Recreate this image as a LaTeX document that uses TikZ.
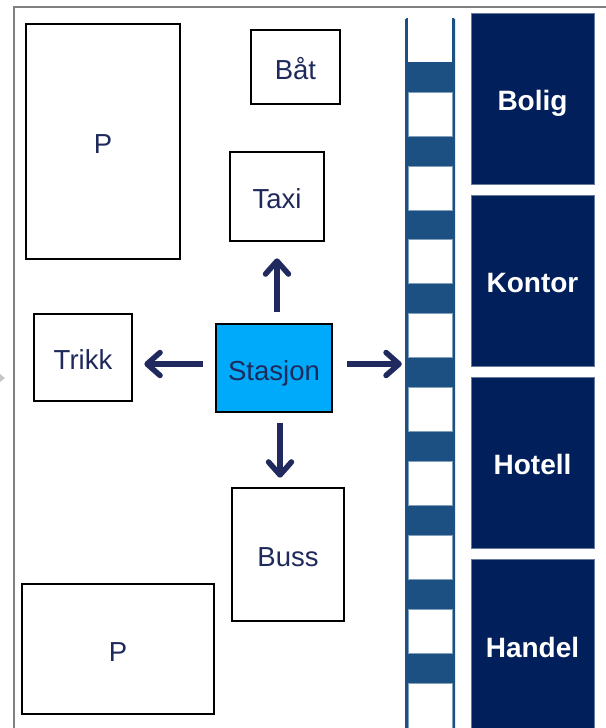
\documentclass[tikz,border=0pt]{standalone}
\usepackage{fontspec}
\setmainfont{Liberation Sans}
\usetikzlibrary{arrows.meta}
\definecolor{navytext}{RGB}{31,42,92}
\definecolor{arrowblue}{RGB}{33,42,94}
\definecolor{station}{RGB}{0,170,250}
\definecolor{railblue}{RGB}{28,80,130}
\definecolor{zone}{RGB}{0,31,91}
\definecolor{framegray}{RGB}{128,128,128}
\begin{document}
\begin{tikzpicture}[x=1pt,y=-1pt,
  place/.style={draw=black, line width=2.6pt, fill=white, inner sep=0pt,
    text height=24pt, text depth=0pt,
    font=\fontsize{27.5}{30}\selectfont, text=navytext},
  hub/.style={place, fill=station},
  zoneblock/.style={fill=zone, draw=zone!60!white, line width=0.8pt, inner sep=0pt,
    minimum width=123pt, minimum height=171pt,
    text height=23pt, text depth=0pt,
    text=white, font=\bfseries\fontsize{28}{30}\selectfont},
  flow/.style={draw=arrowblue, line width=5.5pt,
    -{Straight Barb[length=13pt,width=23pt,line cap=round,line join=round]}},
  gap/.style={fill=white, draw=railblue!55!white, line width=0.6pt}
]
\useasboundingbox (0,0) rectangle (605,728);

% outer frame and the cut-off marker on the left
\draw[framegray, line width=2pt] (14,740) -- (14,7) -- (615,7);
\fill[gray!45] (-5,370) -- (5,378) -- (-5,386) -- cycle;

% ladder (railway track)
\node[inner sep=0pt, minimum width=50pt, minimum height=710pt] (rail) at (430,373) {};
\fill[railblue, rounded corners=1.5pt] (405,18) rectangle (455,740);
\fill[white] (408,10) rectangle (452,62);
\foreach \k in {0,...,7}
  \filldraw[gap] (408,{92+73.875*\k}) rectangle (452,{136+73.875*\k});
\filldraw[gap] (408,683) rectangle (452,745);

% places
\node[place, minimum width=154pt, minimum height=235pt] (ptop) at (103,141.5) {P};
\node[place, minimum width=89pt, minimum height=74pt] (boat) at (295.5,67) {Båt};
\node[place, minimum width=94pt, minimum height=89pt] (taxi) at (277,196.5) {Taxi};
\node[place, minimum width=98pt, minimum height=87pt] (trikk) at (83,357.5) {Trikk};
\node[hub, minimum width=116pt, minimum height=88pt] (station) at (274,368) {Stasjon};
\node[place, minimum width=112pt, minimum height=133pt] (buss) at (288,554.5) {Buss};
\node[place, minimum width=192pt, minimum height=130pt] (pbot) at (118,649) {P};

% zones along the track
\node[zoneblock] (bolig) at (532.5,98.5) {Bolig};
\node[zoneblock] (kontor) at (532.5,280.5) {Kontor};
\node[zoneblock] (hotell) at (532.5,462.5) {Hotell};
\node[zoneblock, minimum height=174pt] (handel) at (532.5,646) {Handel};

% connections from the station
\draw[flow, shorten <=11pt, shorten >=16pt] (station.north -| taxi.south) -- (taxi.south);
\draw[flow, shorten <=10pt, shorten >=9pt] ([xshift=6pt]station.south) -- ([xshift=6pt]station.south |- buss.north);
\draw[flow, shorten <=12pt, shorten >=11pt] ([yshift=4pt]station.west) -- ([yshift=4pt]station.west -| trikk.east);
\draw[flow, shorten <=14pt, shorten >=3pt] ([yshift=4pt]station.east) -- ([yshift=4pt]station.east -| rail.west);
\end{tikzpicture}
\end{document}
